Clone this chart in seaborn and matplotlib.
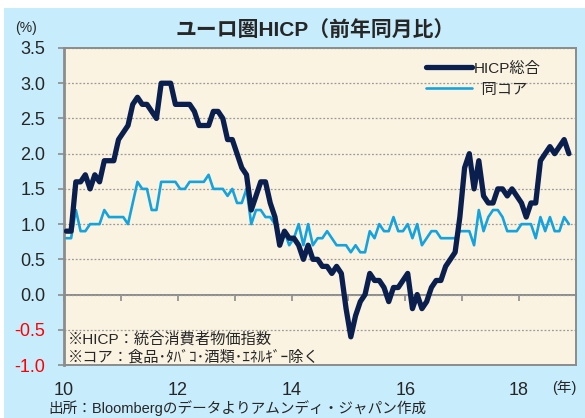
import pandas as pd
import matplotlib
matplotlib.use('Agg')
import matplotlib.pyplot as plt
import seaborn as sns
from matplotlib.patches import Rectangle

# Euro area HICP, y/y %, Jan 2010 - Nov 2018
hicp = [0.9, 0.9, 1.6, 1.6, 1.7, 1.5, 1.7, 1.6, 1.9, 1.9, 1.9, 2.2,
        2.3, 2.4, 2.7, 2.8, 2.7, 2.7, 2.6, 2.5, 3.0, 3.0, 3.0, 2.7,
        2.7, 2.7, 2.7, 2.6, 2.4, 2.4, 2.4, 2.6, 2.6, 2.5, 2.2, 2.2,
        2.0, 1.8, 1.7, 1.2, 1.4, 1.6, 1.6, 1.3, 1.1, 0.7, 0.9, 0.8,
        0.8, 0.7, 0.5, 0.7, 0.5, 0.5, 0.4, 0.4, 0.3, 0.4, 0.3, -0.2,
        -0.6, -0.3, -0.1, 0.0, 0.3, 0.2, 0.2, 0.1, -0.1, 0.1, 0.1, 0.2,
        0.3, -0.2, 0.0, -0.2, -0.1, 0.1, 0.2, 0.2, 0.4, 0.5, 0.6, 1.1,
        1.8, 2.0, 1.5, 1.9, 1.4, 1.3, 1.3, 1.5, 1.5, 1.4, 1.5, 1.4,
        1.3, 1.1, 1.3, 1.3, 1.9, 2.0, 2.1, 2.0, 2.1, 2.2, 2.0]

core = [0.8, 0.8, 1.2, 0.9, 0.9, 1.0, 1.0, 1.0, 1.2, 1.1, 1.1, 1.1,
        1.1, 1.0, 1.3, 1.6, 1.5, 1.5, 1.2, 1.2, 1.6, 1.6, 1.6, 1.6,
        1.5, 1.5, 1.6, 1.6, 1.6, 1.6, 1.7, 1.5, 1.5, 1.5, 1.4, 1.5,
        1.3, 1.3, 1.5, 1.0, 1.2, 1.2, 1.1, 1.1, 1.0, 0.8, 0.9, 0.7,
        0.8, 1.0, 0.7, 1.0, 0.7, 0.8, 0.8, 0.9, 0.8, 0.7, 0.7, 0.7,
        0.6, 0.7, 0.6, 0.6, 0.9, 0.8, 1.0, 0.9, 0.9, 1.1, 0.9, 0.9,
        1.0, 0.8, 1.0, 0.7, 0.8, 0.9, 0.9, 0.8, 0.8, 0.8, 0.8, 0.9,
        0.9, 0.9, 0.7, 1.2, 0.9, 1.1, 1.2, 1.2, 1.1, 0.9, 0.9, 0.9,
        1.0, 1.0, 1.0, 0.8, 1.1, 0.9, 1.1, 0.9, 0.9, 1.1, 1.0]

years = list(range(2010, 2020))
label_years = [2010, 2012, 2014, 2016, 2018]
year_labels = ['10', '12', '14', '16', '18']
y_ticks = [-1.0, -0.5, 0.0, 0.5, 1.0, 1.5, 2.0, 2.5, 3.0, 3.5]

sns.set_theme(style='white')
plt.rcParams['font.family'] = ['Liberation Sans', 'Noto Sans CJK JP']

months = pd.date_range('2010-01-01', periods=len(hicp), freq='MS')
df = pd.DataFrame({'x': months.year + (months.month - 0.5) / 12,
                   'hicp': hicp, 'core': core})

fig = plt.figure(figsize=(5.85, 4.18), dpi=100)
fig.patch.set_facecolor('white')
fig.patches.append(Rectangle((4 / 585, 0), 1, 1 - 8 / 418, transform=fig.transFigure,
                             facecolor='#C7ECFC', edgecolor='none', zorder=-10))

ax = fig.add_axes([64 / 585, 1 - 365 / 418, 512 / 585, 317 / 418])
ax.set_facecolor('#FAF3E1')

sns.lineplot(data=df, x='x', y='hicp', ax=ax, color='#0B1F4F', linewidth=3.8,
             label='HICP総合', zorder=4)
sns.lineplot(data=df, x='x', y='core', ax=ax, color='#15A3DE', linewidth=1.9,
             label='  同コア', zorder=3)

ylo, yhi = -1.0, 3.5
ax.set_xlim(2010, 2019)
ax.set_ylim(ylo, yhi)
ax.set_xlabel('')
ax.set_ylabel('')

ax.set_yticks(y_ticks)
ax.set_yticklabels([f'{v:.1f}' for v in y_ticks])
for lbl, v in zip(ax.get_yticklabels(), y_ticks):
    if v < 0:
        lbl.set_color('#FF0000')
ax.set_xticks(label_years)
ax.set_xticklabels(year_labels)
ax.tick_params(axis='y', direction='out', length=4.5, width=1.2, color='#8C8C8C',
               labelsize=13, pad=9, left=True)
ax.tick_params(axis='x', length=0, labelsize=13, pad=12)

ax.yaxis.grid(True, linestyle=(0, (1.5, 1.5)), color='#9A9A9A', linewidth=0.9)
ax.xaxis.grid(False)

for side in ['top', 'right', 'bottom']:
    ax.spines[side].set_color('#8C8C8C')
    ax.spines[side].set_linewidth(1.4)
ax.spines['left'].set_color('#8C8C8C')
ax.spines['left'].set_linewidth(2.0)

# zero line with the yearly tick marks
sec = ax.secondary_xaxis((0 - ylo) / (yhi - ylo))
sec.set_xticks(years)
sec.tick_params(direction='out', length=4, width=1.2, color='#8C8C8C', labelbottom=False)
sec.spines['bottom'].set_color('#8C8C8C')
sec.spines['bottom'].set_linewidth(1.4)

ax.legend(loc='upper left', bbox_to_anchor=(0.68, 1.0), frameon=False, fontsize=11,
          handlelength=3.0, handletextpad=0.1, labelspacing=0.45)

ax.text(0.008, 0.079, '※HICP：統合消費者物価指数', transform=ax.transAxes,
        fontsize=11, va='center', ha='left')
ax.text(0.008, 0.025, '※コア：食品･ﾀﾊﾞｺ･酒類･ｴﾈﾙｷﾞｰ除く', transform=ax.transAxes,
        fontsize=11, va='center', ha='left')

fig.text(315 / 585, 1 - 30 / 418, 'ユーロ圏HICP（前年同月比）', ha='center', va='center',
         fontsize=15, fontweight='bold')
fig.text(26 / 585, 1 - 28 / 418, '(%)', ha='center', va='center', fontsize=10)
fig.text(564 / 585, 1 - 388 / 418, '(年)', ha='center', va='center', fontsize=10.5)
fig.text(48 / 585, 1 - 408 / 418, '出所：Bloombergのデータよりアムンディ・ジャパン作成',
         ha='left', va='center', fontsize=10.5)

fig.savefig('out.png', dpi=100)
